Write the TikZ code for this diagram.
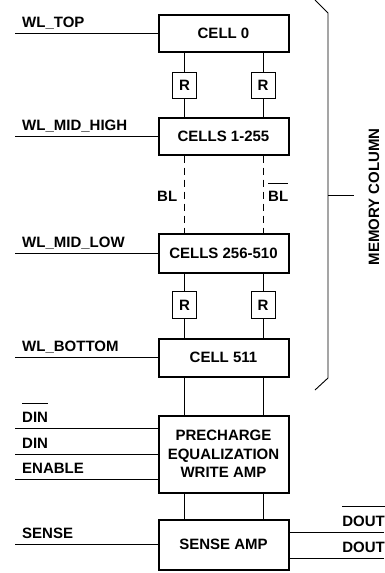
\documentclass[tikz,border=0pt]{standalone}
\usepackage{fontspec}
\setmainfont{Liberation Sans}
\newcommand\ovbar[2][8pt]{\vbox{\hrule height 0.9pt\kern #1\hbox{#2}}}
\begin{document}
\begin{tikzpicture}[x=1pt,y=-1pt,
  f/.style={font=\bfseries\fontsize{15}{18.5}\selectfont},
  blk/.style={f, draw, line width=2pt, minimum width=130pt, inner sep=0pt, align=center},
  rbox/.style={f, draw, line width=0.9pt, minimum width=24pt, minimum height=26.5pt, inner sep=0pt},
  lbl/.style={f, anchor=base west, inner sep=0pt},
  rlbl/.style={f, anchor=base east, inner sep=0pt},
  wire/.style={line width=0.9pt},
  bitdash/.style={wire, dash pattern=on 7pt off 5pt}]
\useasboundingbox (0,0) rectangle (384,573);

% main blocks
\node[blk, minimum height=37pt] (c0) at (223.5,33) {CELL 0};
\node[blk, minimum height=37pt] (c1) at (223.5,136) {CELLS 1-255};
\node[blk, minimum height=39pt] (c2) at (223.5,253) {CELLS 256-510};
\node[blk, minimum height=38pt] (c3) at (223.5,357.5) {CELL 511};
\node[blk, minimum height=77pt] (pre) at (223.5,454) {PRECHARGE\\EQUALIZATION\\WRITE AMP};
\node[blk, minimum height=50pt] (sa) at (223.5,544.5) {SENSE AMP};

% resistors
\node[rbox] (ra) at (184.5,85.5) {R};
\node[rbox] (rb) at (263,85.5) {R};
\node[rbox] (rc) at (184.5,305) {R};
\node[rbox] (rd) at (263,305) {R};

% bit lines
\draw[wire] (ra) -- (ra |- c0.south);
\draw[wire] (ra) -- (ra |- c1.north);
\draw[wire] (rb) -- (rb |- c0.south);
\draw[wire] (rb) -- (rb |- c1.north);
\draw[bitdash] (c1.south -| ra) -- (c2.north -| ra);
\draw[bitdash] (c1.south -| rb) -- (c2.north -| rb);
\draw[wire] (rc) -- (rc |- c2.south);
\draw[wire] (rc) -- (rc |- c3.north);
\draw[wire] (rd) -- (rd |- c2.south);
\draw[wire] (rd) -- (rd |- c3.north);
\draw[wire] (c3.south -| ra) -- (pre.north -| ra);
\draw[wire] (c3.south -| rb) -- (pre.north -| rb);
\draw[wire] (pre.south -| ra) -- (sa.north -| ra);
\draw[wire] (pre.south -| rb) -- (sa.north -| rb);

\node[f, anchor=base west, inner sep=0pt] (bl) at (157,201) {BL};
\node[lbl] (blb) at (268,201) {\ovbar[7pt]{BL}};

% word lines
\coordinate (w0) at (15,33);
\coordinate (w1) at (15,136);
\coordinate (w2) at (15,253);
\coordinate (w3) at (15,357.5);
\draw[wire] (w0) -- (c0.west);
\draw[wire] (w1) -- (c1.west);
\draw[wire] (w2) -- (c2.west);
\draw[wire] (w3) -- (c3.west);
\node[lbl] (l0) at (22,27) {WL\_TOP};
\node[lbl] (l1) at (22,130) {WL\_MID\_HIGH};
\node[lbl] (l2) at (22,247) {WL\_MID\_LOW};
\node[lbl] (l3) at (22,351.5) {WL\_BOTTOM};

% write inputs
\coordinate (d1) at (15,428.5);
\coordinate (d2) at (15,454);
\coordinate (d3) at (15,479.5);
\draw[wire] (d1) -- (d1 -| pre.west);
\draw[wire] (d2) -- (d2 -| pre.west);
\draw[wire] (d3) -- (d3 -| pre.west);
\node[lbl] (ld1) at (22,422.5) {\ovbar{DIN}};
\node[lbl] (ld2) at (22,448) {DIN};
\node[lbl] (ld3) at (22,473.5) {ENABLE};

% sense
\coordinate (s1) at (15,544.5);
\draw[wire] (s1) -- (sa.west);
\node[lbl] (ls) at (22,538.5) {SENSE};
\coordinate (o1) at (384,532);
\coordinate (o2) at (384,558);
\draw[wire] (o1 -| sa.east) -- (o1);
\draw[wire] (o2 -| sa.east) -- (o2);
\node[rlbl] (lo1) at (385,526) {\ovbar[9pt]{DOUT}};
\node[rlbl] (lo2) at (385,552) {DOUT};

% memory column bracket
\coordinate (bt) at (315,0);
\coordinate (bt2) at (328,13);
\coordinate (bb2) at (328,378);
\coordinate (bb) at (315,390);
\coordinate (bm) at (328,195);
\coordinate (bm2) at (354,195);
\draw[wire] (bt) -- (bt2) -- (bb2) -- (bb);
\draw[wire] (bm) -- (bm2);
\node[f, rotate=90, inner sep=0pt] (mc) at (374,197) {MEMORY COLUMN};
\end{tikzpicture}
\end{document}
